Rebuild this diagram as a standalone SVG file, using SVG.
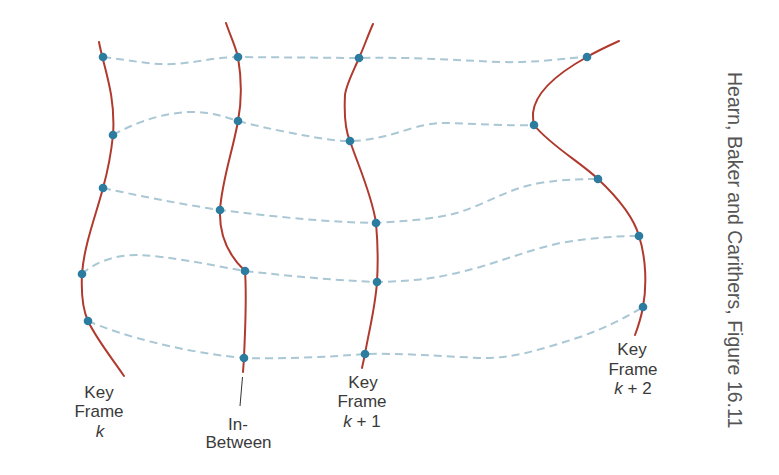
<svg xmlns="http://www.w3.org/2000/svg" width="779" height="475" viewBox="0 0 779 475">
<defs>
<style>
.curve{fill:none;stroke:#b03a2e;stroke-width:2;stroke-linecap:round}
.dash{fill:none;stroke:#a9c7d4;stroke-width:2;stroke-dasharray:8 5}
.dot{fill:#2c7c9f}
.lbl{font-family:"Liberation Sans",Arial,sans-serif;font-size:17px;fill:#3a3a3a;text-anchor:middle}
.it{font-style:italic}
.credit{font-family:"Liberation Sans",Arial,sans-serif;font-size:19.5px;fill:#555}
</style>
</defs>
<rect width="779" height="475" fill="#ffffff"/>
<g id="connectors">
<path class="dash" d="M103,57 C130,60 150,65 173,64 C195,63 215,57 238,57 L359,58 C420,57 450,60 500,62 C540,63 565,58 587,57"/>
<path class="dash" d="M113,135 C140,120 170,111 197,112 C215,113 225,117 238,121 C265,128 290,133 313,137 C330,140 340,141 350,141 C370,141 390,135 413,128 C430,123 440,123 447,123 C480,124 510,126 534,125"/>
<path class="dash" d="M103,188 C140,196 180,204 220,210 C270,216 320,222 376,223 C420,220 440,218 460,212 C490,202 510,188 540,183 C565,179 585,179 598,179"/>
<path class="dash" d="M82,274 C95,262 115,255 137,255 C170,256 210,265 245,271 C290,276 330,280 377,282 C420,281 440,278 480,267 C510,258 530,250 560,243 C590,238 615,236 639,236"/>
<path class="dash" d="M88,321 C120,335 180,352 244,358 C280,359 330,357 365,354 C400,353 440,356 480,358 C510,359 540,350 580,337 C605,328 625,318 643,307"/>
</g>
<g id="keyframe-k">
<path class="curve" d="M99,42 C103,65 116,95 113,135 C111,155 108,170 103,188 C96,215 84,245 82,274 C81,295 83,310 88,321 C97,340 112,358 124,376"/>
<circle class="dot" cx="103" cy="57" r="4.3"/>
<circle class="dot" cx="113" cy="135" r="4.3"/>
<circle class="dot" cx="103" cy="188" r="4.3"/>
<circle class="dot" cx="82" cy="274" r="4.3"/>
<circle class="dot" cx="88" cy="321" r="4.3"/>
<text class="lbl" x="99" y="398">Key</text>
<text class="lbl" x="99" y="417">Frame</text>
<text class="lbl it" x="100" y="437">k</text>
</g>
<g id="in-between">
<path class="curve" d="M226,23 C230,35 235,45 238,57 C241,75 243,95 238,121 C233,150 222,180 220,210 C219,235 228,255 245,271 C247,300 245,330 244,358 L243,372"/>
<line x1="242.5" y1="377" x2="240" y2="406" stroke="#333" stroke-width="1"/>
<circle class="dot" cx="238" cy="57" r="4.3"/>
<circle class="dot" cx="238" cy="121" r="4.3"/>
<circle class="dot" cx="220" cy="210" r="4.3"/>
<circle class="dot" cx="245" cy="271" r="4.3"/>
<circle class="dot" cx="244" cy="358" r="4.3"/>
<text class="lbl" x="238" y="430">In-</text>
<text class="lbl" x="238.5" y="448">Between</text>
</g>
<g id="keyframe-k1">
<path class="curve" d="M373,24 C368,35 364,47 359,58 C353,72 346,85 345,95 C344,115 345,130 350,141 C358,165 372,195 376,223 C378,245 378,265 377,282 C375,310 368,335 365,354 L362,368"/>
<circle class="dot" cx="359" cy="58" r="4.3"/>
<circle class="dot" cx="350" cy="141" r="4.3"/>
<circle class="dot" cx="376" cy="223" r="4.3"/>
<circle class="dot" cx="377" cy="282" r="4.3"/>
<circle class="dot" cx="365" cy="354" r="4.3"/>
<text class="lbl" x="363" y="388">Key</text>
<text class="lbl" x="362" y="407">Frame</text>
<text class="lbl" x="362" y="427"><tspan class="it">k</tspan> + 1</text>
</g>
<g id="keyframe-k2">
<path class="curve" d="M619,41 C608,46 597,51 587,57 C560,72 535,92 533,113 C533,118 533,122 534,125 C550,145 580,162 598,179 C615,195 633,215 639,236 C646,258 647,285 643,307 C641,318 638,327 635,335"/>
<circle class="dot" cx="587" cy="57" r="4.3"/>
<circle class="dot" cx="534" cy="125" r="4.3"/>
<circle class="dot" cx="598" cy="179" r="4.3"/>
<circle class="dot" cx="639" cy="236" r="4.3"/>
<circle class="dot" cx="643" cy="307" r="4.3"/>
<text class="lbl" x="632" y="355">Key</text>
<text class="lbl" x="633" y="375">Frame</text>
<text class="lbl" x="633" y="394"><tspan class="it">k</tspan> + 2</text>
</g>
<text class="credit" x="728" y="72" transform="rotate(90 728 72)">Hearn, Baker and Carithers, Figure 16.11</text>
</svg>
